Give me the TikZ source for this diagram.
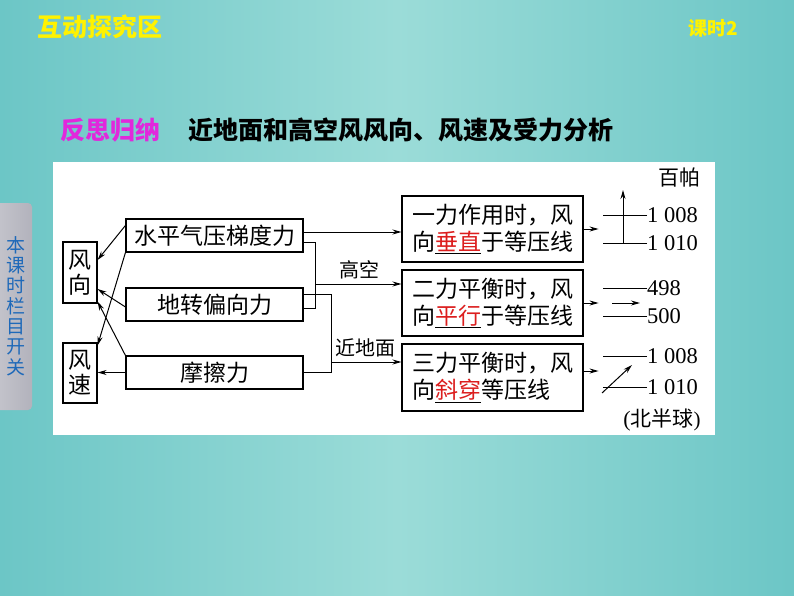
\documentclass[tikz,border=0pt]{standalone}
\usepackage{fontspec}
\newfontfamily\cjk{Noto Sans CJK SC}
\newfontfamily\numfont{Liberation Serif}
\usetikzlibrary{arrows.meta}
\definecolor{bgteal}{RGB}{108,198,198}
\definecolor{bglight}{RGB}{155,220,216}
\definecolor{tabgray}{RGB}{178,178,188}
\definecolor{tabblue}{RGB}{30,105,185}
\definecolor{titlemag}{RGB}{225,40,220}
\definecolor{keyred}{RGB}{220,30,30}
\newcommand{\keyword}[1]{\underline{\textcolor{keyred}{#1}}}
\tikzset{
  box/.style={draw, line width=1.1pt, fill=white, inner sep=0pt, font=\cjk\fontsize{23}{25}\selectfont},
  lbox/.style={box, minimum width=177pt, minimum height=33pt},
  wbox/.style={box, minimum width=34pt, minimum height=61pt, align=center},
  rbox/.style={box, minimum width=181pt, minimum height=66pt, align=left, font=\cjk\fontsize{23}{27}\selectfont},
  arr/.style={line width=1pt, -{Stealth[length=9pt,width=5pt]}},
  link/.style={line width=1pt},
  num/.style={font=\numfont\fontsize{22.5}{24}\selectfont, inner sep=0pt, anchor=west},
  lbl/.style={font=\cjk\fontsize{20}{22}\selectfont, inner sep=0pt},
}
\begin{document}
\begin{tikzpicture}[x=1pt,y=-1pt]
\useasboundingbox (0,0) rectangle (794,596);
% background and panel
\shade[left color=bgteal, right color=bgteal, middle color=bglight] (0,0) rectangle (794,596);
\fill[white] (53,162) rectangle (715,435);
% side tab
\shade[left color=tabgray!75!white, right color=tabgray, rounded corners=4pt] (-6,203) rectangle (32,410);
\node[font=\cjk\fontsize{19}{20.3}\selectfont, text=tabblue, align=center, inner sep=0pt] (tab) at (16,306) {本\\课\\时\\栏\\目\\开\\关};
% headings
\node[font=\cjk\bfseries\fontsize{25}{28}\selectfont, text=yellow, anchor=west, inner sep=0pt] (sec) at (37,27) {互动探究区};
\node[font=\cjk\bfseries\fontsize{19}{22}\selectfont, text=yellow, anchor=west, inner sep=0pt] (lesson) at (688,28) {课时2};
\node[font=\cjk\bfseries\fontsize{25}{28}\selectfont, text=titlemag, anchor=west, inner sep=0pt] (sum) at (60,130) {反思归纳};
\node[font=\cjk\bfseries\fontsize{25}{28}\selectfont, anchor=west, inner sep=0pt] (title) at (188,130) {近地面和高空风风向、风速及受力分析};

% wind boxes
\node[wbox] (fx) at (80,272.5) {风\\向};
\node[wbox, minimum height=60pt] (fsu) at (80,373) {风\\速};
% forces
\node[lbox] (hpg) at (214.5,235.5) {水平气压梯度力};
\node[lbox] (dz) at (214.5,304.5) {地转偏向力};
\node[lbox] (mc) at (214.5,372.5) {摩擦力};
% cases
\node[rbox] (r1) at (492.5,229) {一力作用时，风\\向\keyword{垂直}于等压线};
\node[rbox] (r2) at (492.5,303) {二力平衡时，风\\向\keyword{平行}于等压线};
\node[rbox, minimum height=67pt] (r3) at (492.5,377.5) {三力平衡时，风\\向\keyword{斜穿}等压线};

% forces -> wind
\draw[arr] ([yshift=-7pt]hpg.north west) -- ([yshift=12.5pt]fx.east);
\draw[arr] (hpg.south west) -- ([yshift=-3pt]fsu.north east);
\draw[arr] ([yshift=-2.5pt]dz.west) -- ([yshift=-16.5pt]fx.east);
\draw[arr] (mc.north west) -- ([yshift=2pt]fx.south east);
\draw[arr] (mc.west) -- (mc.west -| fsu.east);

% forces -> cases
\coordinate (j1) at (315,308);
\coordinate (j2) at (331,372.5);
\coordinate (gk) at (315,284);
\coordinate (jd) at (331,362);
\draw[arr] ([yshift=3.5pt]hpg.east) -- ([yshift=3.5pt]hpg.east -| r1.west);
\draw[link] ([yshift=-6.5pt]hpg.east) -| (j1) -- ([yshift=-3.5pt]dz.east);
\draw[arr] (gk) -- (gk -| r2.west);
\node[lbl] (gaokong) at (359,270) {高空};
\draw[link] ([yshift=10.5pt]dz.east) -| (j2) -- (mc.east);
\draw[arr] (jd) -- (jd -| r3.west);
\node[lbl] (jindimian) at (365,348) {近地面};

% cases -> isobars
\draw[arr] (r1.east) -- ++(15,0);
\draw[arr] (r2.east) -- ++(15,0);
\draw[arr] ([yshift=6.5pt]r3.east) -- ++(15,0);

\node[font=\cjk\fontsize{21}{23}\selectfont, inner sep=0pt] (hpa) at (679,178) {百帕};
% one force
\node[num] (p1a) at (647,215) {1 008};
\node[num] (p1b) at (647,243) {1 010};
\draw[link] (p1a.west) -- ++(-44,0);
\draw[link] (p1b.west) -- ++(-44,0);
\coordinate (v1a) at (623,243);
\coordinate (v1b) at (623,190);
\draw[arr] (v1a) -- (v1b);
% two forces
\node[num] (p2a) at (647,288) {498};
\node[num] (p2b) at (647,316) {500};
\draw[link] (p2a.west) -- ++(-44,0);
\draw[link] (p2b.west) -- ++(-44,0);
\coordinate (v2a) at (612,303);
\coordinate (v2b) at (640,303);
\draw[arr] (v2a) -- (v2b);
% three forces
\node[num] (p3a) at (647,356) {1 008};
\node[num] (p3b) at (647,387) {1 010};
\draw[link] (p3a.west) -- ++(-44,0);
\draw[link] (p3b.west) -- ++(-44,0);
\coordinate (v3a) at (602,393);
\coordinate (v3b) at (632,365);
\draw[arr] (v3a) -- (v3b);
\node[inner sep=0pt] (nh) at (662,420) {\numfont\fontsize{22}{24}\selectfont(\cjk\fontsize{21}{24}\selectfont 北半球\numfont)};
\end{tikzpicture}
\end{document}
